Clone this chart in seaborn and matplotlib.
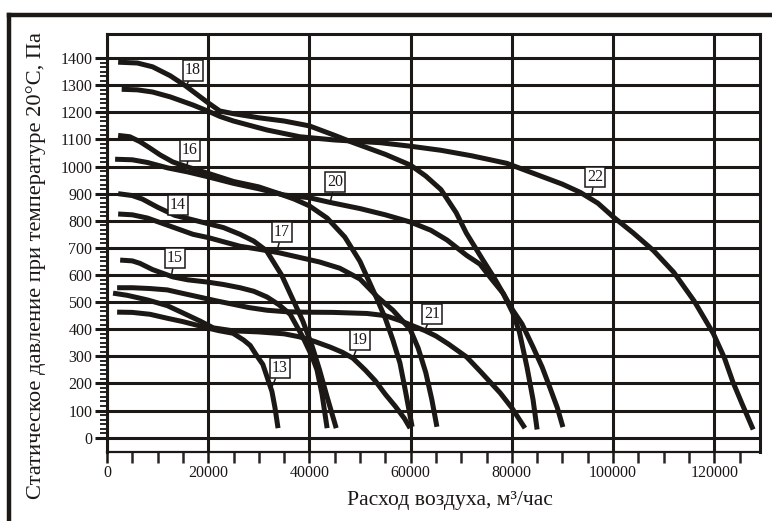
import matplotlib
matplotlib.use("Agg")
import matplotlib.pyplot as plt
from matplotlib.ticker import FixedLocator
from matplotlib.lines import Line2D
import numpy as np
import seaborn as sns
import pandas as pd

# Fan performance curves: air flow (m3/h) vs static pressure (Pa)
fan_13_q = [2000, 5000, 8500, 12000, 15000, 19800, 22000, 24900, 27000, 28300, 29500, 30800, 31700, 32600, 33200, 33800]
fan_13_p = [463, 462, 455, 440, 428, 405, 395, 385, 360, 340, 305, 270, 220, 170, 110, 35]

fan_14_q = [2200, 5000, 7000, 10000, 13400, 16000, 19800, 23000, 26300, 29000, 31500, 33000, 34500, 36800, 38700, 40500, 42000, 43500, 45300]
fan_14_p = [900, 893, 880, 850, 820, 808, 790, 775, 750, 725, 690, 645, 600, 507, 430, 340, 250, 150, 35]

fan_15_q = [2600, 5000, 6500, 9000, 13000, 16000, 19800, 23000, 26300, 29000, 31600, 34000, 36200, 38700, 40500, 41500, 42500, 43500]
fan_15_p = [655, 652, 643, 620, 593, 582, 574, 565, 553, 540, 519, 490, 455, 371, 300, 250, 160, 35]

fan_16_q = [2200, 4500, 6500, 8500, 10500, 13000, 16000, 20000, 25000, 30000, 34000, 37000, 40000, 43500, 47000, 50000, 53400, 55000, 56500, 57900, 59000, 60300]
fan_16_p = [1115, 1110, 1092, 1068, 1043, 1017, 998, 975, 945, 925, 900, 880, 855, 810, 740, 650, 510, 440, 360, 275, 170, 40]

fan_17_q = [2200, 5000, 8000, 11000, 14000, 17000, 20000, 26300, 30000, 34000, 38000, 42000, 46000, 50000, 53400, 56500, 59900, 61500, 63000, 64200, 65200]
fan_17_p = [825, 822, 810, 790, 770, 750, 738, 706, 695, 682, 665, 648, 625, 585, 520, 470, 400, 330, 240, 140, 40]

fan_18_q = [2200, 6000, 9000, 12500, 15500, 20000, 22300, 25000, 30000, 35000, 40000, 45000, 48400, 55000, 60000, 63000, 66000, 69000, 71000, 74300, 76500, 78300, 80200, 81500, 83000, 84200, 85000]
fan_18_p = [1385, 1382, 1368, 1335, 1298, 1235, 1205, 1195, 1180, 1168, 1150, 1115, 1090, 1045, 1005, 965, 915, 830, 755, 655, 590, 532, 460, 390, 260, 140, 30]

fan_19_q = [1200, 4000, 8000, 11900, 15000, 18400, 21000, 24900, 30000, 35000, 38000, 41000, 44100, 46500, 48600, 51000, 53000, 55000, 57000, 58800, 59900]
fan_19_p = [533, 525, 508, 487, 460, 430, 405, 394, 390, 383, 372, 355, 334, 315, 293, 250, 210, 160, 115, 70, 35]

fan_20_q = [1600, 5000, 8000, 12000, 16000, 20000, 25000, 30000, 35000, 40000, 44000, 50000, 55000, 60000, 64000, 67200, 71100, 73700, 76000, 78300, 80200, 82000, 84200, 86000, 87500, 89000, 90100]
fan_20_p = [1027, 1025, 1015, 995, 980, 962, 938, 918, 895, 885, 868, 845, 822, 795, 765, 729, 672, 640, 585, 532, 470, 420, 334, 260, 186, 110, 39]

fan_21_q = [2000, 5000, 8500, 11900, 15000, 18400, 21500, 24900, 28000, 31600, 35000, 38100, 44700, 51400, 55000, 57900, 60500, 62800, 65000, 67500, 71100, 74000, 77700, 80000, 82600]
fan_21_p = [553, 553, 550, 545, 532, 518, 505, 492, 480, 470, 465, 463, 462, 458, 450, 432, 412, 395, 375, 345, 297, 240, 165, 110, 35]

fan_22_q = [2900, 6000, 9000, 12500, 17000, 20400, 22300, 25000, 31600, 38100, 45000, 54000, 60000, 66000, 72000, 79000, 85000, 90000, 93500, 97000, 100000, 104000, 108000, 112000, 116000, 119800, 122000, 123700, 125500, 127700]
fan_22_p = [1285, 1283, 1275, 1257, 1227, 1201, 1185, 1168, 1135, 1110, 1098, 1088, 1075, 1060, 1040, 1012, 970, 935, 905, 865, 815, 755, 690, 610, 505, 385, 295, 205, 125, 30]

fan_ids = [13, 14, 15, 16, 17, 18, 19, 20, 21, 22]
fan_q = [fan_13_q, fan_14_q, fan_15_q, fan_16_q, fan_17_q, fan_18_q, fan_19_q, fan_20_q, fan_21_q, fan_22_q]
fan_p = [fan_13_p, fan_14_p, fan_15_p, fan_16_p, fan_17_p, fan_18_p, fan_19_p, fan_20_p, fan_21_p, fan_22_p]

# Curve number tags: tag position and the point on the curve it points to
tag_xy = {13: (34200, 256), 14: (14000, 858), 15: (13400, 662), 16: (16400, 1060), 17: (34600, 758),
          18: (17000, 1355), 19: (50000, 360), 20: (45100, 943), 21: (64200, 456), 22: (96400, 961)}
tag_target = {13: (32300, 175), 14: (13400, 818), 15: (12800, 605), 16: (15800, 1005), 17: (33600, 690),
              18: (15800, 1302), 19: (48600, 293), 20: (44100, 868), 21: (62800, 395), 22: (95800, 898)}

x_ticks = [0, 20000, 40000, 60000, 80000, 100000, 120000]
y_ticks = [0, 100, 200, 300, 400, 500, 600, 700, 800, 900, 1000, 1100, 1200, 1300, 1400]

rows = []
for fid, qs, ps in zip(fan_ids, fan_q, fan_p):
    for q, p in zip(qs, ps):
        rows.append({"fan": str(fid), "q": q, "p": p})
df = pd.DataFrame(rows)

sns.set_theme(style="white")
plt.rcParams["font.family"] = ["Liberation Serif", "DejaVu Serif"]

ink = "#1b1816"
W, H = 772, 521
fig = plt.figure(figsize=(W / 100, H / 100), dpi=100)
ax = fig.add_axes([107 / W, 1 - 452 / H, (760 - 107) / W, (452 - 34) / H])

sns.lineplot(data=df, x="q", y="p", hue="fan", units="fan", estimator=None, sort=False,
             palette=[ink] * len(fan_ids), legend=False, lw=3.6, ax=ax, zorder=4)
for ln in ax.get_lines():
    ln.set_solid_capstyle("butt")
    ln.set_solid_joinstyle("round")

ax.set_xlim(0, 129050)
ax.set_ylim(-53, 1489)

ax.set_xticks(x_ticks)
ax.set_xticklabels([str(v) for v in x_ticks])
ax.set_yticks(y_ticks)
ax.set_yticklabels([str(v) for v in y_ticks])
ax.xaxis.set_minor_locator(FixedLocator(np.arange(5000, 126000, 5000)))
y_minor = [v for v in np.arange(0, 1400.1, 100 / 6) if round(v) % 100 != 0]
ax.yaxis.set_minor_locator(FixedLocator(y_minor))

ax.grid(True, which="major", color=ink, lw=2.2, zorder=1)
ax.set_axisbelow(True)

ax.tick_params(axis="both", which="major", labelsize=11.5, colors=ink, labelcolor=ink)
ax.tick_params(axis="y", which="major", direction="out", length=9, width=2.2, pad=1.5, left=True)
ax.tick_params(axis="y", which="minor", direction="out", length=5, width=1.4, left=True)
ax.tick_params(axis="x", which="major", direction="out", length=8, width=1.8, pad=1.5, bottom=True)
ax.tick_params(axis="x", which="minor", direction="out", length=8, width=1.8, bottom=True)

for side, lw in (("left", 2.2), ("right", 2.2), ("top", 2.2), ("bottom", 1.6)):
    ax.spines[side].set_visible(True)
    ax.spines[side].set_color(ink)
    ax.spines[side].set_linewidth(lw)

ax.set_xlabel("Расход воздуха, м³/час", fontsize=15.6, color=ink)
ax.set_ylabel("Статическое давление при температуре 20°С, Па", fontsize=16.2, color=ink)
ax.xaxis.set_label_coords(0.525, -0.093)
ax.yaxis.set_label_coords(-0.093, 0.447)

for fid in fan_ids:
    ax.annotate(str(fid), xy=tag_target[fid], xytext=tag_xy[fid],
                ha="center", va="center", fontsize=11.5, color=ink, zorder=6,
                bbox=dict(boxstyle="square,pad=0.14", fc="white", ec=ink, lw=1.1),
                arrowprops=dict(arrowstyle="-", color=ink, lw=1.1, shrinkA=0, shrinkB=0))

# Heavy frame around the sheet (continues past the right and bottom edges)
frame_kw = dict(color=ink, lw=3.2, solid_capstyle="projecting", transform=None)
fig.add_artist(Line2D([9, W + 10], [H - 15, H - 15], **frame_kw))
fig.add_artist(Line2D([9, 9], [H - 15, -10], **frame_kw))

fig.savefig("out.png", dpi=100, facecolor="white")
